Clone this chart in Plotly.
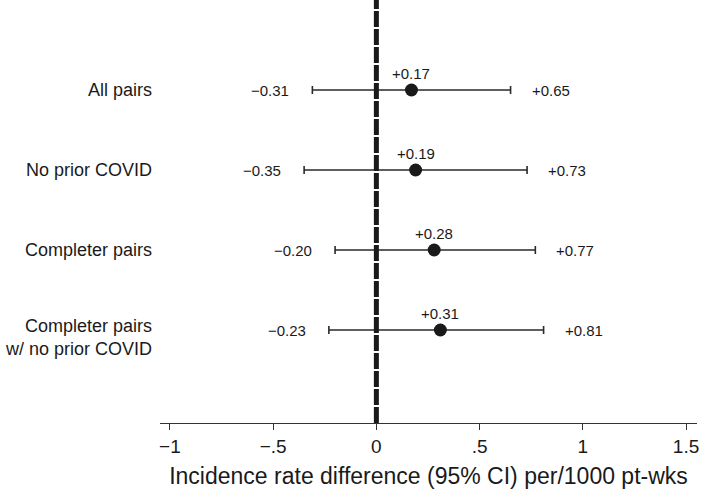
import plotly.graph_objects as go

categories = ["All pairs", "No prior COVID", "Completer pairs", "Completer pairs<br>w/ no prior COVID"]
estimates = [0.17, 0.19, 0.28, 0.31]
lower = [-0.31, -0.35, -0.20, -0.23]
upper = [0.65, 0.73, 0.77, 0.81]
tick_vals = [-1, -0.5, 0, 0.5, 1, 1.5]
tick_text = ["\u22121", "\u2212.5", "0", ".5", "1", "1.5"]

def fmt(v):
    return ("+" if v >= 0 else "\u2212") + f"{abs(v):.2f}"

rows = list(range(1, len(categories) + 1))
font = "Liberation Sans, Arial, Helvetica, sans-serif"
ink = "#1a1a1a"

fig = go.Figure()
fig.add_trace(go.Scatter(
    x=estimates, y=rows, mode="markers",
    marker=dict(size=13, color=ink),
    error_x=dict(type="data", symmetric=False,
                 array=[u - e for u, e in zip(upper, estimates)],
                 arrayminus=[e - l for e, l in zip(estimates, lower)],
                 color="#2a2a2a", thickness=1.6, width=4),
    showlegend=False, hoverinfo="skip",
))

annotations = []
for r, c, e, l, u in zip(rows, categories, estimates, lower, upper):
    multi = "<br>" in c
    annotations.append(dict(x=0, xref="paper", y=r, yref="y", text=c, showarrow=False,
                            xanchor="right", align="right", xshift=-6,
                            yshift=-7 if multi else 0,
                            font=dict(size=18, color=ink, family=font)))
    annotations.append(dict(x=e, y=r, text=fmt(e), showarrow=False, yshift=17,
                            font=dict(size=15, color=ink, family=font)))
    annotations.append(dict(x=l, y=r, text=fmt(l), showarrow=False, xanchor="right",
                            xshift=-21, font=dict(size=15, color=ink, family=font)))
    annotations.append(dict(x=u, y=r, text=fmt(u), showarrow=False, xanchor="left",
                            xshift=19, font=dict(size=15, color=ink, family=font)))

fig.add_shape(type="line", x0=0, x1=0, xref="x", y0=0, y1=1, yref="paper",
              line=dict(color=ink, width=5, dash="16px,2px"), layer="above")

fig.update_layout(
    width=701, height=491,
    margin=dict(l=160, r=4, t=0, b=68),
    plot_bgcolor="white", paper_bgcolor="white",
    font=dict(family=font, color=ink),
    annotations=annotations,
    xaxis=dict(range=[-1.048, 1.553], tickvals=tick_vals, ticktext=tick_text,
               showgrid=False, zeroline=False, showline=True, linecolor="#333",
               linewidth=1, ticks="outside", ticklen=6, tickcolor="#333",
               tickfont=dict(size=19, color=ink, family=font),
               title=dict(text="Incidence rate difference (95% CI) per/1000 pt-wks",
                          font=dict(size=23, color=ink, family=font), standoff=12)),
    yaxis=dict(range=[5.1625, -0.125], showgrid=False, zeroline=False,
               showticklabels=False, showline=False, ticks=""),
)

fig.write_html("out.html", config={"displayModeBar": False},
               post_script="document.body.style.margin='0';")
